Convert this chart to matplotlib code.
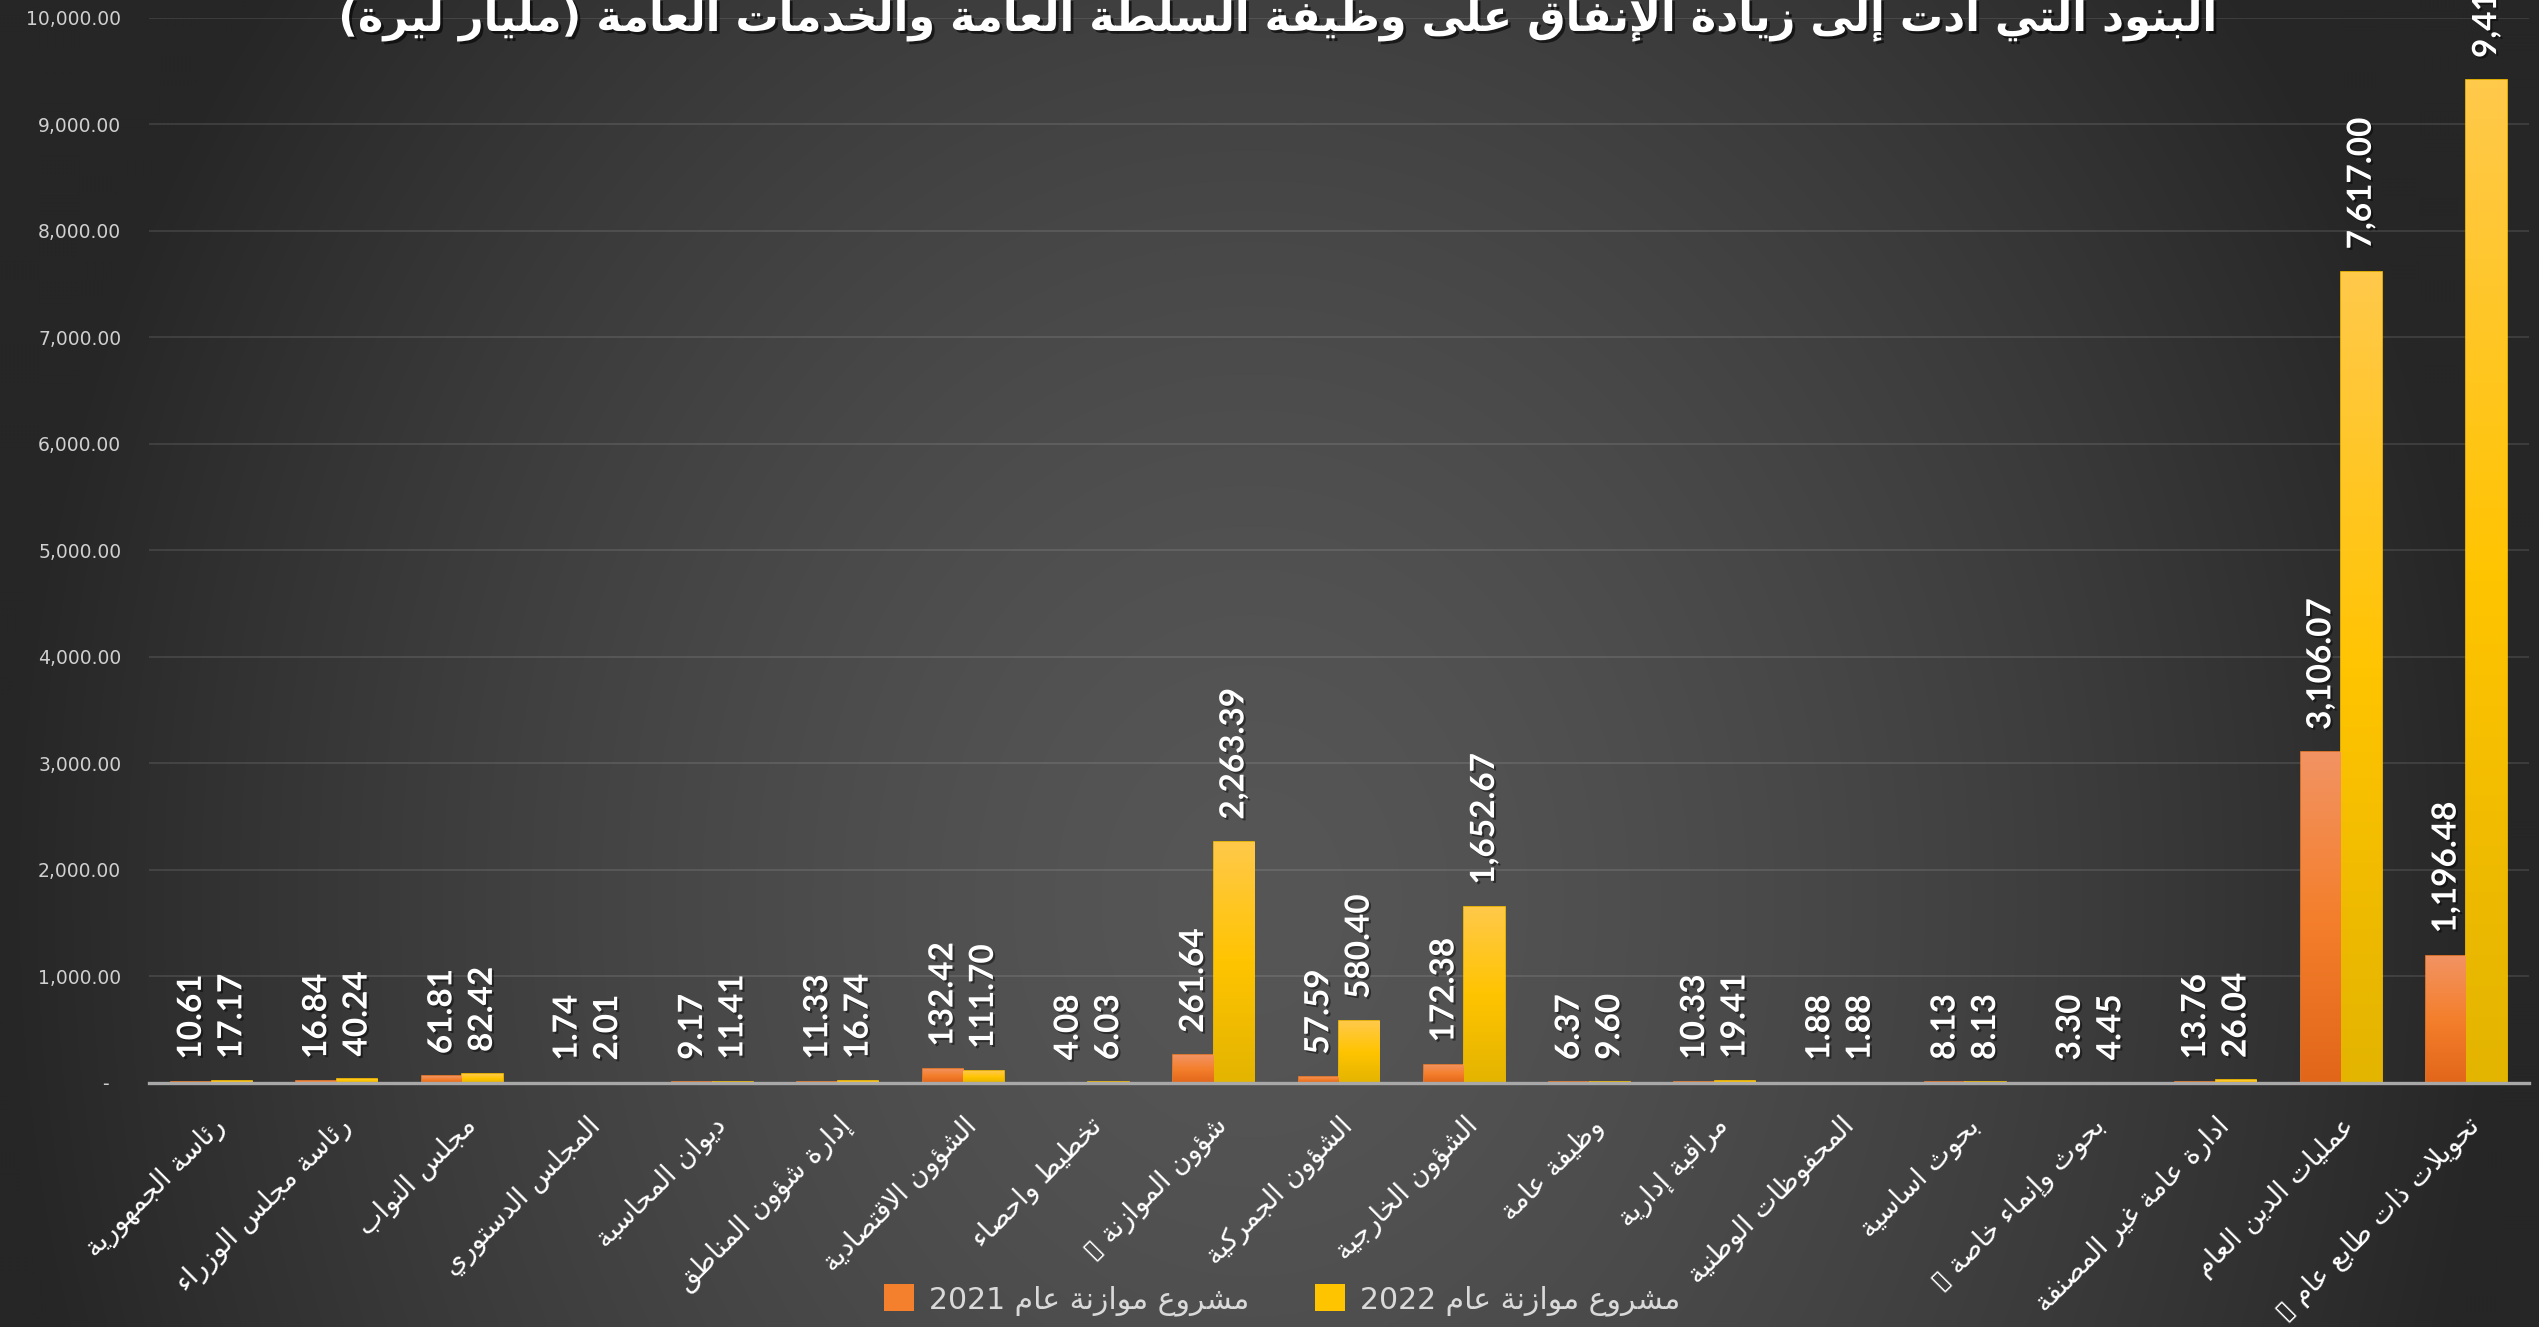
import re
import numpy as np
import matplotlib
matplotlib.use("Agg")
import matplotlib.pyplot as plt
import matplotlib.patheffects as pe
from matplotlib.colors import LinearSegmentedColormap
from matplotlib.patches import Patch
from matplotlib.ticker import FuncFormatter, MultipleLocator

# ---- data (billion LBP) ----
categories = [
    "رئاسة الجمهورية", "رئاسة مجلس الوزراء", "مجلس النواب", "المجلس الدستوري",
    "ديوان المحاسبة", "إدارة شؤون المناطق", "الشؤون الاقتصادية", "تخطيط واحصاء",
    "شؤون الموازنة ▯", "الشؤون الجمركية", "الشؤون الخارجية", "وظيفة عامة",
    "مراقبة إدارية", "المحفوظات الوطنية", "بحوث اساسية", "بحوث وإنماء خاصة ▯",
    "ادارة عامة غير المصنفة", "عمليات الدين العام", "تحويلات ذات طابع عام ▯",
]
budget_2021 = [10.61, 16.84, 61.81, 1.74, 9.17, 11.33, 132.42, 4.08, 261.64, 57.59,
               172.38, 6.37, 10.33, 1.88, 8.13, 3.30, 13.76, 3106.07, 1196.48]
budget_2022 = [17.17, 40.24, 82.42, 2.01, 11.41, 16.74, 111.70, 6.03, 2263.39, 580.40,
               1652.67, 9.60, 19.41, 1.88, 8.13, 4.45, 26.04, 7617.00, 9413.40]
series_names = ["مشروع موازنة عام 2021", "مشروع موازنة عام 2022"]
title = "البنود التي أدت إلى زيادة الإنفاق على وظيفة السلطة العامة والخدمات العامة (مليار ليرة)"

# ---- minimal arabic shaping (matplotlib has no bidi / joining) ----
FORMS = {
    'ء': (0xFE80, 1), 'آ': (0xFE81, 2), 'أ': (0xFE83, 2), 'ؤ': (0xFE85, 2), 'إ': (0xFE87, 2),
    'ئ': (0xFE89, 4), 'ا': (0xFE8D, 2), 'ب': (0xFE8F, 4), 'ة': (0xFE93, 2), 'ت': (0xFE95, 4),
    'ث': (0xFE99, 4), 'ج': (0xFE9D, 4), 'ح': (0xFEA1, 4), 'خ': (0xFEA5, 4), 'د': (0xFEA9, 2),
    'ذ': (0xFEAB, 2), 'ر': (0xFEAD, 2), 'ز': (0xFEAF, 2), 'س': (0xFEB1, 4), 'ش': (0xFEB5, 4),
    'ص': (0xFEB9, 4), 'ض': (0xFEBD, 4), 'ط': (0xFEC1, 4), 'ظ': (0xFEC5, 4), 'ع': (0xFEC9, 4),
    'غ': (0xFECD, 4), 'ف': (0xFED1, 4), 'ق': (0xFED5, 4), 'ك': (0xFED9, 4), 'ل': (0xFEDD, 4),
    'م': (0xFEE1, 4), 'ن': (0xFEE5, 4), 'ه': (0xFEE9, 4), 'و': (0xFEED, 2), 'ى': (0xFEEF, 2),
    'ي': (0xFEF1, 4),
    'لا': (0xFEFB, 2), 'لأ': (0xFEF7, 2), 'لإ': (0xFEF9, 2), 'لآ': (0xFEF5, 2),
}


def shape(text):
    tokens = []
    i = 0
    while i < len(text):
        if text[i] == 'ل' and i + 1 < len(text) and text[i + 1] in 'اأإآ':
            tokens.append(text[i:i + 2])
            i += 2
        else:
            tokens.append(text[i])
            i += 1
    out = []
    for k, tok in enumerate(tokens):
        if tok not in FORMS:
            out.append(tok)
            continue
        base, n = FORMS[tok]
        prev = tokens[k - 1] if k > 0 else None
        nxt = tokens[k + 1] if k + 1 < len(tokens) else None
        join_prev = prev in FORMS and FORMS[prev][1] == 4
        join_next = n == 4 and nxt in FORMS and FORMS[nxt][1] > 1
        if n == 1:
            form = 0
        elif n == 2:
            form = 1 if join_prev else 0
        else:
            form = 3 if (join_prev and join_next) else 1 if join_prev else 2 if join_next else 0
        out.append(chr(base + form))
    return "".join(out)


def ar(text):
    vis = shape(text)[::-1]
    vis = re.sub(r'[0-9.,]+', lambda m: m.group(0)[::-1], vis)
    return vis.translate(str.maketrans('()', ')('))


def grad_bar(ax, bar, colors):
    x, y = bar.get_x(), bar.get_y()
    w, h = bar.get_width(), bar.get_height()
    cmap = LinearSegmentedColormap.from_list('g', colors)
    grad = np.linspace(0, 1, 128).reshape(-1, 1)
    im = ax.imshow(grad, cmap=cmap, extent=(x, x + w, y, y + h), aspect='auto',
                   interpolation='bilinear', zorder=3)
    im.set_clip_path(bar)


W, H = 2539, 1327
fig = plt.figure(figsize=(W / 100, H / 100), dpi=100)
fig.patch.set_facecolor('#2a2a2a')

# radial background
bg = fig.add_axes([0, 0, 1, 1], zorder=-5)
yy, xx = np.mgrid[0:H:4, 0:W:4]
d = np.sqrt(((xx - 1250) / 1250.0) ** 2 + ((yy - 900) / 1500.0) ** 2)
c = (86 - 48 * np.clip(d, 0, 1) ** 1.5) / 255.0
bg.imshow(np.dstack([c, c, c]), aspect='auto', interpolation='bilinear')
bg.axis('off')

ax = fig.add_axes([149 / W, 1 - 1083 / H, (2529 - 149) / W, (1083 - 17.7) / H])
ax.set_facecolor('none')

x = np.arange(len(categories))
bw = 0.323
orange = ['#f29363', '#f47f2c', '#e2661a']
yellow = ['#ffc94a', '#ffc400', '#e3b400']

# thin edges so that the very small values still show as slivers
bars1 = ax.bar(x - bw / 2, budget_2021, bw, facecolor='none', edgecolor=orange[1],
               linewidth=1.2, zorder=3)
bars2 = ax.bar(x + bw / 2, budget_2022, bw, facecolor='none', edgecolor=yellow[1],
               linewidth=1.2, zorder=3)
for b in bars1:
    grad_bar(ax, b, orange)
for b in bars2:
    grad_bar(ax, b, yellow)

# value labels
shadow = [pe.withSimplePatchShadow(offset=(1.5, -1.5), shadow_rgbFace='black', alpha=0.45)]
for bars, vals in [(bars1, budget_2021), (bars2, budget_2022)]:
    for b, v in zip(bars, vals):
        ax.annotate(f"{v:,.2f}", (b.get_x() + b.get_width() / 2, v),
                    xytext=(0, 16), textcoords='offset points', rotation=90,
                    ha='center', va='bottom', color='white', fontsize=24,
                    fontweight='bold', family=['Lato', 'DejaVu Sans'],
                    annotation_clip=False, zorder=5, path_effects=shadow)

ax.set_xlim(-0.5, len(categories) - 0.5)
ax.set_ylim(0, 10000)
ax.yaxis.set_major_locator(MultipleLocator(1000))
ax.yaxis.set_major_formatter(FuncFormatter(lambda v, p: '-  ' if v == 0 else f"{v:,.2f}"))
ax.tick_params(axis='y', length=0, pad=20, labelsize=13.5, labelcolor='#d0d0d0')
ax.yaxis.grid(True, color='white', alpha=0.1, linewidth=1.5, zorder=0)
ax.set_axisbelow(True)

ax.set_xticks(x)
ax.set_xticklabels([ar(c) for c in categories], rotation=45, ha='right', va='top',
                   rotation_mode='anchor', fontsize=19.5, color='white',
                   family=['DejaVu Sans'])
ax.tick_params(axis='x', length=0, pad=21)

for s in ['top', 'right', 'left']:
    ax.spines[s].set_visible(False)
ax.spines['bottom'].set_color('#a8a8a8')
ax.spines['bottom'].set_linewidth(2.4)
ax.spines['bottom'].set_zorder(4)

# title (cropped at the top like the original)
fig.text(0.503, 1 - 31 / H, ar(title), ha='center', va='baseline', fontsize=31,
         fontweight='bold', color='white', family=['DejaVu Sans'],
         path_effects=[pe.withSimplePatchShadow(offset=(2, -2), shadow_rgbFace='black', alpha=0.6)])

# legend
handles = [Patch(facecolor=orange[1], edgecolor='none'), Patch(facecolor=yellow[1], edgecolor='none')]
fig.legend(handles, [ar(s) for s in series_names], loc='center', bbox_to_anchor=(0.505, 1 - 1300 / H),
           ncol=2, frameon=False, handlelength=1.0, handleheight=1.0,
           handletextpad=0.5, columnspacing=2.2, labelcolor='#d9d9d9',
           prop={'family': ['DejaVu Sans'], 'size': 21.5})

fig.savefig('out.png', dpi=100, facecolor=fig.get_facecolor())
